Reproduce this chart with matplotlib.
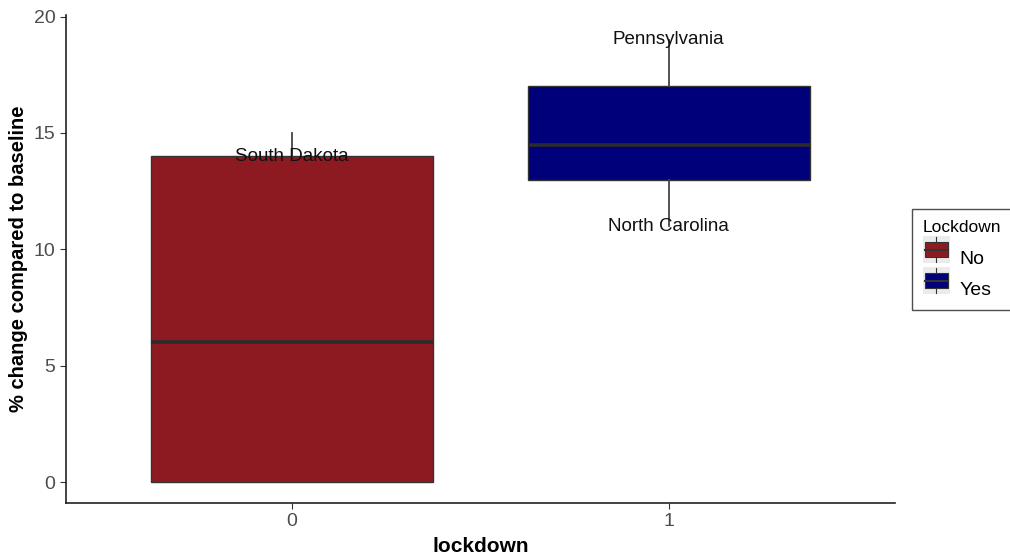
import matplotlib
matplotlib.use("Agg")
import matplotlib.pyplot as plt
from matplotlib.patches import Rectangle
from matplotlib.lines import Line2D
from matplotlib.legend_handler import HandlerBase

plt.rcParams['font.family'] = ['Liberation Sans', 'DejaVu Sans']

# box summary per lockdown group
groups = [0, 1]
q1 = [0, 13]
med = [6, 14.5]
q3 = [14, 17]
whislo = [0, 11]
whishi = [15, 19]
fills = ['#8e1a21', '#00007a']
legend_names = ['No', 'Yes']

# labelled states
states = ['South Dakota', 'Pennsylvania', 'North Carolina']
state_x = [0, 1, 1]
state_y = [14, 19, 11]

edge = '#333333'


# legend key: small boxplot glyph like ggplot
class BoxKey(HandlerBase):
    def create_artists(self, legend, orig, xd, yd, w, h, fontsize, trans):
        fc = orig.get_facecolor()
        bg = Rectangle((xd, yd - 0.15 * h), w, 1.3 * h, facecolor='#ebebeb', edgecolor='none', transform=trans)
        box = Rectangle((xd + 0.08 * w, yd + 0.15 * h), 0.84 * w, 0.7 * h, facecolor=fc, edgecolor=edge, lw=0.8, transform=trans)
        mid = Line2D([xd + 0.08 * w, xd + 0.92 * w], [yd + 0.5 * h] * 2, color=edge, lw=1.5, transform=trans)
        wt = Line2D([xd + 0.5 * w] * 2, [yd + 0.85 * h, yd + 1.1 * h], color=edge, lw=0.8, transform=trans)
        wb = Line2D([xd + 0.5 * w] * 2, [yd - 0.1 * h, yd + 0.15 * h], color=edge, lw=0.8, transform=trans)
        return [bg, box, mid, wt, wb]


fig = plt.figure(figsize=(10.1, 5.56), dpi=100)
ax = fig.add_axes([0.0653, 0.0953, 0.8207, 0.8777])

stats = []
for i in range(len(groups)):
    stats.append({'med': med[i], 'q1': q1[i], 'q3': q3[i],
                  'whislo': whislo[i], 'whishi': whishi[i], 'fliers': []})

bp = ax.bxp(stats, positions=groups, widths=0.75, patch_artist=True,
            showcaps=False,
            boxprops=dict(edgecolor=edge, linewidth=1.0),
            medianprops=dict(color='#2b2b2b', linewidth=2.6),
            whiskerprops=dict(color='#444444', linewidth=1.3))
for patch, c in zip(bp['boxes'], fills):
    patch.set_facecolor(c)

for s, x, y in zip(states, state_x, state_y):
    ax.text(x, y, s, ha='center', va='center', fontsize=13.5, color='#111111')

ax.set_xlim(-0.6, 1.6)
ax.set_ylim(-0.9, 20.07)
ax.set_xticks(groups)
ax.set_xticklabels([str(g) for g in groups])
ax.set_yticks([0, 5, 10, 15, 20])

for side in ['top', 'right']:
    ax.spines[side].set_visible(False)
for side in ['left', 'bottom']:
    ax.spines[side].set_color('#222222')
    ax.spines[side].set_linewidth(1.2)
ax.tick_params(axis='both', colors='#333333', labelcolor='#4d4d4d', labelsize=14, length=4, width=0.8)

ax.set_xlabel('lockdown', fontsize=15, fontweight='bold', labelpad=5)
ax.set_ylabel('% change compared to baseline', fontsize=14.5, fontweight='bold', labelpad=4)

handles = [Rectangle((0, 0), 1, 1, facecolor=c) for c in fills]
leg = fig.legend(handles, legend_names, title='Lockdown', loc='upper left',
                 bbox_to_anchor=(0.903, 0.624), handler_map={Rectangle: BoxKey()},
                 fontsize=14, title_fontsize=12.5, frameon=True, fancybox=False,
                 edgecolor='#222222', handlelength=1.4, handleheight=1.3,
                 handletextpad=0.5, labelspacing=0.5, borderpad=0.55,
                 borderaxespad=0)
leg.get_frame().set_linewidth(1.0)
leg._legend_box.align = 'left'
leg._legend_box.sep = 9

fig.savefig('out.png', dpi=100)
